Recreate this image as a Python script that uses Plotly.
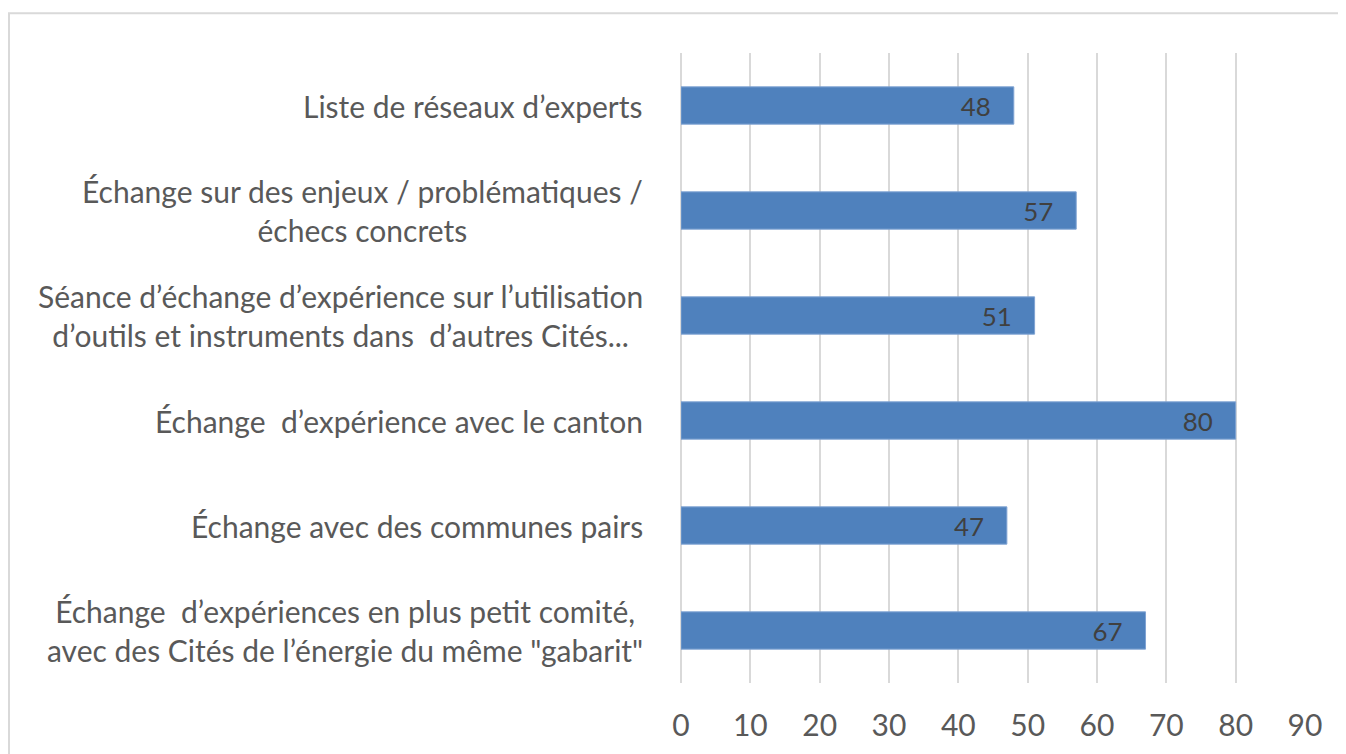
import plotly.graph_objects as go

categories = [
    "Échange  d’expériences en plus petit comité,<br>avec des Cités de l’énergie du même \"gabarit\"",
    "Échange avec des communes pairs",
    "Échange  d’expérience avec le canton",
    "Séance d’échange d’expérience sur l’utilisation<br>d’outils et instruments dans  d’autres Cités...",
    "Échange sur des enjeux / problématiques /<br>échecs concrets",
    "Liste de réseaux d’experts",
]
values = [67, 47, 80, 51, 57, 48]
x_ticks = [0, 10, 20, 30, 40, 50, 60, 70, 80, 90]

# page body has an 8px margin, so the figure starts at (8, 8)
W, H = 1338, 746
L, R, T, B = 673, 41, 45, 66
pw, ph = W - L - R, H - T - B

fig = go.Figure()
fig.add_trace(go.Bar(
    y=categories, x=values, orientation="h",
    marker=dict(color="#4F81BD", line=dict(color="#7FA3D3", width=1)),
    text=values,
    texttemplate="%{x}\u00a0\u00a0\u00a0",
    textposition="inside", insidetextanchor="end",
    textfont=dict(family="Lato", size=29, color="#404040"),
    cliponaxis=False,
))

annotations = []
for c in categories:
    annotations.append(dict(
        x=0, xref="paper", y=c, yref="y", xshift=-36,
        xanchor="right", yanchor="middle", align="center",
        text=c, showarrow=False,
        font=dict(family="Lato", size=30, color="#595959"),
    ))

fig.update_layout(
    width=W, height=H,
    margin=dict(l=L, r=R, t=T, b=B, pad=0),
    paper_bgcolor="white", plot_bgcolor="white",
    bargap=0.645,
    showlegend=False,
    annotations=annotations,
    shapes=[dict(
        type="rect", xref="paper", yref="paper",
        x0=(1 - L) / pw, x1=(W + 20 - L) / pw,
        y0=(T + ph - (H + 20)) / ph, y1=(T + ph - 5) / ph,
        line=dict(color="#D9D9D9", width=2), fillcolor="rgba(0,0,0,0)",
        layer="below",
    )],
)
fig.update_xaxes(
    range=[0, 90], tickvals=x_ticks, ticktext=[str(v) for v in x_ticks],
    showgrid=True, gridcolor="#D9D9D9", gridwidth=2,
    zeroline=True, zerolinecolor="#D9D9D9", zerolinewidth=2,
    showline=False, ticks="",
    tickfont=dict(family="Lato", size=30, color="#595959"),
    ticklabelstandoff=22,
)
fig.update_yaxes(
    categoryorder="array", categoryarray=categories,
    showticklabels=False, showgrid=False, zeroline=False, showline=False, ticks="",
)

fig.write_html("out.html")
